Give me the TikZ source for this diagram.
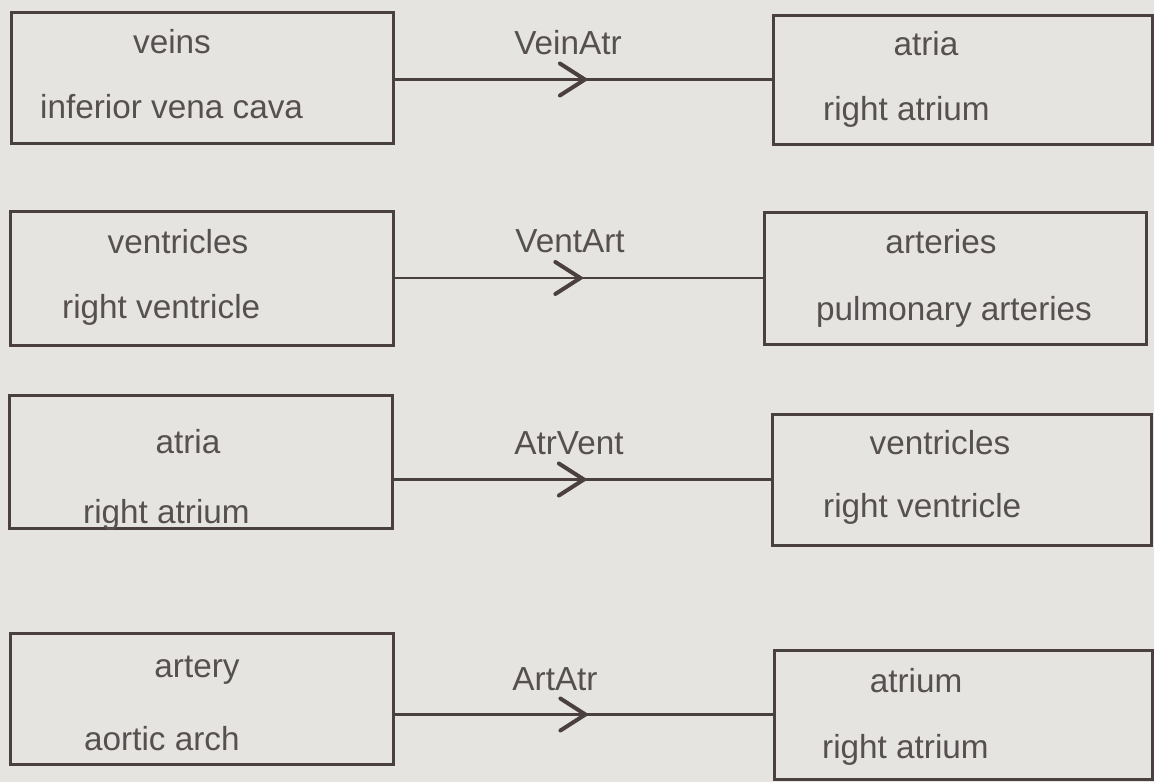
\documentclass[tikz,border=0pt]{standalone}
\usepackage{fontspec}
\setmainfont{Liberation Sans}
\usetikzlibrary{decorations.markings}
\definecolor{bg}{RGB}{230,228,225}
\definecolor{ln}{RGB}{74,64,64}
\definecolor{tx}{RGB}{86,80,80}
\begin{document}
\begin{tikzpicture}[x=1pt,y=-1pt,
  box/.style={draw=ln, line width=3pt, rectangle, inner sep=0pt, outer sep=0pt},
  txt/.style={text=tx, font=\fontsize{33.3}{40}\selectfont, inner sep=0pt},
  conn/.style={draw=ln, line width=2.8pt, postaction={decorate},
    decoration={markings, mark=at position 0.505 with {\draw[ln, line width=4pt, line cap=round, line join=miter] (-25pt,-16pt) -- (0pt,0pt) -- (-25pt,16pt);}}}]
\useasboundingbox (0,0) rectangle (1154,782);
\fill[bg] (0,0) rectangle (1154,782);

% row 1
\node[box, minimum width=382pt, minimum height=131pt] (L1) at (202,77.5) {};
\node[box, minimum width=379pt, minimum height=129pt] (R1) at (962.5,79.5) {};
\node[txt, anchor=base] (L1a) at (172,53) {veins};
\node[txt, anchor=base west] (L1b) at (40,118) {inferior vena cava};
\node[txt, anchor=base] (R1a) at (926,55) {atria};
\node[txt, anchor=base west] (R1b) at (823,120) {right atrium};
\draw[conn] (L1.east |- R1.west) -- (R1.west);
\node[txt, anchor=base] (C1) at (568,54) {VeinAtr};

% row 2
\node[box, minimum width=383pt, minimum height=134pt] (L2) at (201.5,278) {};
\node[box, minimum width=382pt, minimum height=132pt] (R2) at (955,278) {};
\node[txt, anchor=base] (L2a) at (178,253) {ventricles};
\node[txt, anchor=base west] (L2b) at (62,318) {right ventricle};
\node[txt, anchor=base] (R2a) at (941,253) {arteries};
\node[txt, anchor=base west] (R2b) at (816,320) {pulmonary arteries};
\draw[conn] (L2.east |- R2.west) -- (R2.west);
\node[txt, anchor=base] (C2) at (570,252) {VentArt};

% row 3
\node[box, minimum width=383pt, minimum height=133pt] (L3) at (200.5,461.5) {};
\node[box, minimum width=379pt, minimum height=131pt] (R3) at (961.5,479.5) {};
\node[txt, anchor=base] (L3a) at (188,453) {atria};
\node[txt, anchor=base west] (L3b) at (83,523) {right atrium};
\node[txt, anchor=base] (R3a) at (940,454) {ventricles};
\node[txt, anchor=base west] (R3b) at (823,517) {right ventricle};
\draw[conn] (L3.east |- R3.west) -- (R3.west);
\node[txt, anchor=base] (C3) at (569,454) {AtrVent};

% row 4
\node[box, minimum width=383pt, minimum height=131pt] (L4) at (201.5,698.5) {};
\node[box, minimum width=378pt, minimum height=129pt] (R4) at (963,714.5) {};
\node[txt, anchor=base] (L4a) at (197,677) {artery};
\node[txt, anchor=base west] (L4b) at (84,750) {aortic arch};
\node[txt, anchor=base] (R4a) at (916,692) {atrium};
\node[txt, anchor=base west] (R4b) at (822,758) {right atrium};
\draw[conn] (L4.east |- R4.west) -- (R4.west);
\node[txt, anchor=base] (C4) at (555,690) {ArtAtr};
\end{tikzpicture}
\end{document}
